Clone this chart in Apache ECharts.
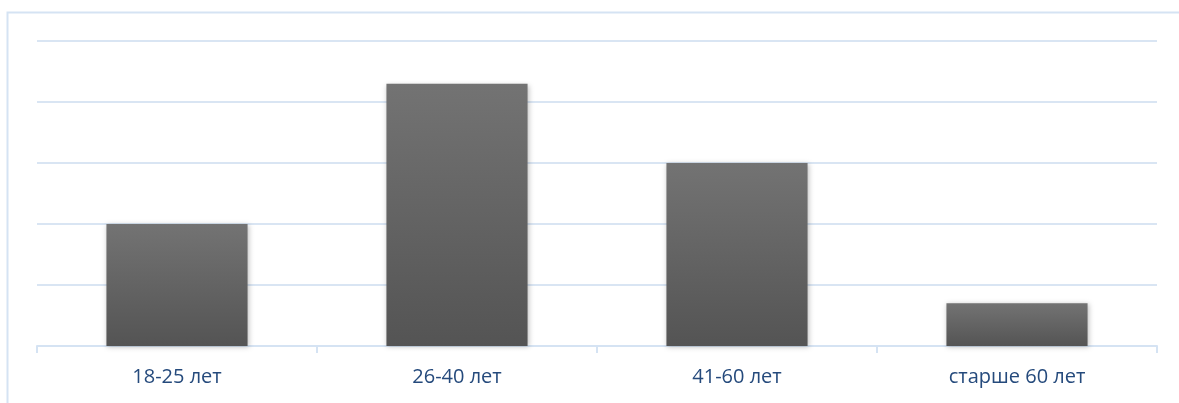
<!DOCTYPE html>
<html>
<head>
<meta charset="utf-8">
<script src="https://cdn.jsdelivr.net/npm/echarts@6/dist/echarts.min.js"></script>
<style>
html,body{margin:0;padding:0;background:#fff;}
#chart{width:1179px;height:403px;}
</style>
</head>
<body>
<div id="chart"></div>
<script>
const categories = ['18-25 лет', '26-40 лет', '41-60 лет', 'старше 60 лет'];
const values = [2, 4.3, 3, 0.7];

const chart = echarts.init(document.getElementById('chart'));
chart.setOption({
  animation: false,
  backgroundColor: '#ffffff',
  graphic: [{
    type: 'rect',
    shape: { x: 7.5, y: 12.5, width: 1400, height: 600 },
    style: { fill: 'none', stroke: '#d5e3f3', lineWidth: 2 },
    silent: true
  }],
  grid: { left: 37, right: 22, top: 41, bottom: 57 },
  xAxis: {
    type: 'category',
    data: categories,
    axisLine: { lineStyle: { color: '#d5e3f3', width: 2 } },
    axisTick: { show: true, length: 7, lineStyle: { color: '#d5e3f3', width: 2 } },
    axisLabel: { color: '#254a7c', fontSize: 20, fontFamily: 'Open Sans, sans-serif', margin: 21 }
  },
  yAxis: {
    type: 'value',
    min: 0, max: 5, interval: 1,
    axisLine: { show: false },
    axisTick: { show: false },
    axisLabel: { show: false },
    splitLine: { lineStyle: { color: '#d9e5f3', width: 2 } }
  },
  series: [{
    type: 'bar',
    data: values,
    barWidth: '50.4%',
    itemStyle: {
      color: new echarts.graphic.LinearGradient(0, 0, 0, 1, [
        { offset: 0, color: '#737373' },
        { offset: 1, color: '#545454' }
      ]),
      shadowColor: 'rgba(0,0,0,0.25)',
      shadowBlur: 5,
      shadowOffsetX: 1,
      shadowOffsetY: 1
    }
  }]
});
</script>
</body>
</html>
